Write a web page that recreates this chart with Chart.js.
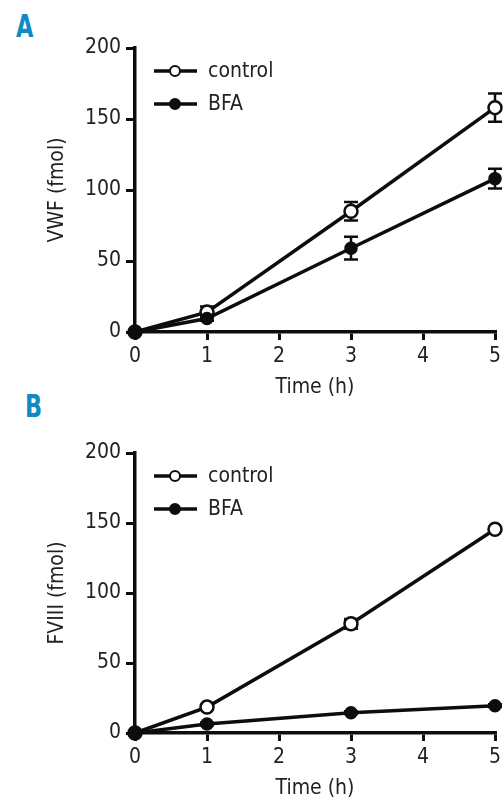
<!DOCTYPE html>
<html>
<head>
<meta charset="utf-8">
<script src="https://cdn.jsdelivr.net/npm/chart.js@4.4.1/dist/chart.umd.min.js"></script>
<style>
  html, body { margin:0; padding:0; background:#fff; }
  body { width:504px; height:801px; position:relative; overflow:hidden; }
  .panel { position:absolute; left:0; width:504px; }
  .tag { position:absolute; font-family:"DejaVu Sans Condensed","Liberation Sans Narrow",sans-serif;
         font-weight:bold; font-size:32px; color:#0f8ac4; line-height:1;
         transform:scaleX(0.78); transform-origin:left top; }
</style>
</head>
<body>
<div class="tag" style="left:16px;top:10px;">A</div>
<div class="tag" style="left:25px;top:390px;">B</div>
<div class="panel" style="top:0;height:400px;"><canvas id="chartA" width="504" height="400"></canvas></div>
<div class="panel" style="top:400px;height:401px;"><canvas id="chartB" width="504" height="401"></canvas></div>
<script>
// ---- data ----
const timeH = [0, 1, 3, 5];
const xTicks = [0, 1, 2, 3, 4, 5];
const yTicks = [0, 50, 100, 150, 200];

const vwfControl    = [0, 14, 85, 158];
const vwfControlErr = [0, 4, 6.5, 10];
const vwfBfa        = [0, 9.5, 59, 108];
const vwfBfaErr     = [0, 1.5, 8, 7];

const f8Control     = [0, 18.5, 78, 145.5];
const f8ControlErr  = [0, 1.5, 3.5, 1.5];
const f8Bfa         = [0, 6.5, 14.5, 19.5];
const f8BfaErr      = [0, 1, 1, 1];

const FONT = '"DejaVu Sans Condensed","Liberation Sans Narrow",sans-serif';
const INK = '#0d0d0d';

// error bars, drawn under the markers
const errorBars = {
  id: 'errorBars',
  beforeDatasetsDraw(chart) {
    const { ctx, scales: { x, y } } = chart;
    ctx.save();
    ctx.strokeStyle = INK;
    ctx.lineWidth = 2.5;
    chart.data.datasets.forEach(ds => {
      (ds.errors || []).forEach((e, i) => {
        if (!e) return;
        const px = x.getPixelForValue(ds.data[i].x);
        const top = y.getPixelForValue(ds.data[i].y + e);
        const bot = y.getPixelForValue(ds.data[i].y - e);
        ctx.beginPath();
        ctx.moveTo(px, top); ctx.lineTo(px, bot);
        ctx.moveTo(px - 7, top); ctx.lineTo(px + 7, top);
        ctx.moveTo(px - 7, bot); ctx.lineTo(px + 7, bot);
        ctx.stroke();
      });
    });
    ctx.restore();
  }
};

// legend in the upper-left of the plot
const innerLegend = {
  id: 'innerLegend',
  afterDraw(chart) {
    const { ctx, chartArea } = chart;
    const x0 = chartArea.left + 19, y0 = chartArea.top + 23;
    ctx.save();
    chart.data.datasets.forEach((ds, i) => {
      const yy = y0 + i * 33;
      ctx.strokeStyle = INK;
      ctx.lineWidth = 3.5;
      ctx.beginPath(); ctx.moveTo(x0, yy); ctx.lineTo(x0 + 43, yy); ctx.stroke();
      ctx.beginPath(); ctx.arc(x0 + 21, yy, 5, 0, Math.PI * 2);
      ctx.fillStyle = ds.pointBackgroundColor;
      ctx.fill();
      ctx.lineWidth = 2; ctx.stroke();
      ctx.fillStyle = '#222';
      ctx.font = '21px ' + FONT;
      ctx.textBaseline = 'middle';
      ctx.fillText(ds.label, x0 + 54, yy + 1);
    });
    ctx.restore();
  }
};

function series(label, vals, errs, open) {
  return {
    label,
    data: timeH.map((t, i) => ({ x: t, y: vals[i] })),
    errors: errs,
    borderColor: INK,
    borderWidth: 3.5,
    pointRadius: open ? 6.5 : 5.5,
    pointBorderWidth: 2.5,
    pointBorderColor: INK,
    pointBackgroundColor: open ? '#fff' : INK,
    clip: false,
    order: open ? 1 : 0
  };
}

function makeChart(id, yTitle, ctrl, ctrlErr, bfa, bfaErr, padTop) {
  return new Chart(document.getElementById(id), {
    type: 'line',
    data: { datasets: [series('control', ctrl, ctrlErr, true), series('BFA', bfa, bfaErr, false)] },
    options: {
      responsive: false,
      animation: false,
      layout: { padding: { top: padTop, right: 5, left: 45, bottom: 0 } },
      plugins: { legend: { display: false }, tooltip: { enabled: false } },
      scales: {
        x: {
          type: 'linear', min: 0, max: 5,
          afterBuildTicks: s => { s.ticks = xTicks.map(v => ({ value: v })); },
          afterFit: s => { s.height = 68; s.paddingLeft = 0; s.paddingRight = 0; },
          border: { color: INK, width: 3.5 },
          grid: { drawOnChartArea: false, color: INK, lineWidth: 3, tickLength: 8 },
          ticks: { color: '#222', padding: 4, font: { family: FONT, size: 21 } },
          title: { display: true, text: 'Time (h)', color: '#222', padding: { top: 0, bottom: 0 },
                   font: { family: FONT, size: 21 } }
        },
        y: {
          min: 0, max: 200,
          afterBuildTicks: s => { s.ticks = yTicks.map(v => ({ value: v })); },
          afterFit: s => { s.width = 90; s.paddingTop = 0; s.paddingBottom = 0; },
          border: { color: INK, width: 3.5 },
          grid: { drawOnChartArea: false, color: INK, lineWidth: 3, tickLength: 9 },
          ticks: { color: '#222', padding: 5, font: { family: FONT, size: 21 } },
          title: { display: true, text: yTitle, color: '#222', padding: { top: 0, bottom: 0 },
                   font: { family: FONT, size: 21 } }
        }
      }
    },
    plugins: [errorBars, innerLegend]
  });
}

makeChart('chartA', 'VWF (fmol)', vwfControl, vwfControlErr, vwfBfa, vwfBfaErr, 48);
makeChart('chartB', 'FVIII (fmol)', f8Control, f8ControlErr, f8Bfa, f8BfaErr, 53);
</script>
</body>
</html>
